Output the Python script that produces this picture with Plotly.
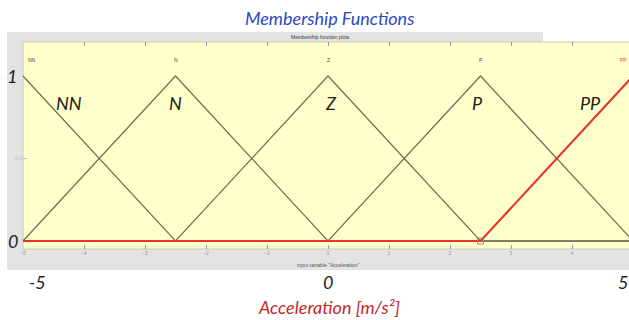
import plotly.graph_objects as go

# membership function vertices (input variable "Acceleration", range -5..5)
MF_NAMES = ["NN", "N", "Z", "P", "PP"]
NN_X = [-5, -2.5, 5]
NN_Y = [1, 0, 0]
N_X = [-5, -2.5, 0, 5]
N_Y = [0, 1, 0, 0]
Z_X = [-5, -2.5, 0, 2.5, 5]
Z_Y = [0, 0, 1, 0, 0]
P_X = [-5, 0, 2.5, 5]
P_Y = [0, 0, 1, 0]
PP_X = [-5, 2.5, 5]
PP_Y = [0, 0, 1]
PEAKS = [-5, -2.5, 0, 2.5, 5]
X_TICKS = [-5, -4, -3, -2, -1, 0, 1, 2, 3, 4, 5]
BIG_X_LABELS = ["-5", "0", "5"]

W, H = 629, 320
L, R, T, B = 23, 0, 42, 71
PW, PH = W - L - R, H - T - B

LINE_COLOR = "#6e6e52"
RED = "#e8342c"
YELLOW = "#ffffcc"
GRAY = "#e3e3e3"
BIG_FONT = "Lato, 'Open Sans', sans-serif"


# pixel -> paper (paper spans the plot area only)
def px(x):
    return (x - L) / PW


def py(y):
    return (H - B - y) / PH


fig = go.Figure()

for xs, ys in [(NN_X, NN_Y), (N_X, N_Y), (Z_X, Z_Y), (P_X, P_Y)]:
    fig.add_trace(go.Scatter(
        x=xs, y=ys, mode="lines",
        line=dict(color=LINE_COLOR, width=1.2),
        hoverinfo="skip",
    ))

fig.add_trace(go.Scatter(
    x=PP_X, y=PP_Y, mode="lines",
    line=dict(color=RED, width=2.2),
    hoverinfo="skip",
))
fig.add_trace(go.Scatter(
    x=PP_X[1:2], y=PP_Y[1:2], mode="markers",
    marker=dict(symbol="square-open", size=6, color="#9a8a6a", line=dict(width=1)),
    hoverinfo="skip",
))

# frame: gray panel, title strip, yellow axes area
shapes = [
    dict(type="rect", xref="paper", yref="paper", x0=px(7), x1=px(629), y0=py(270), y1=py(42),
         fillcolor=GRAY, line_width=0, layer="below"),
    dict(type="rect", xref="paper", yref="paper", x0=px(7), x1=px(543), y0=py(42), y1=py(32),
         fillcolor=GRAY, line_width=0, layer="below"),
    dict(type="rect", xref="paper", yref="paper", x0=px(L), x1=px(630), y0=py(249), y1=py(T),
         fillcolor=YELLOW, line=dict(color="#c8c8b0", width=1), layer="below"),
]

annotations = [
    dict(text="Membership function plots", x=px(320), y=py(37), xref="paper", yref="paper",
         showarrow=False, font=dict(size=5, color="#333", family="Arial"), xanchor="center", yanchor="middle"),
    dict(text="input variable \"Acceleration\"", x=0, y=py(265), xref="x", yref="paper",
         showarrow=False, font=dict(size=5, color="#555", family="Arial"), xanchor="center", yanchor="middle"),
    dict(text="<i>Membership Functions</i>", x=px(329), y=py(18), xref="paper", yref="paper",
         showarrow=False, font=dict(size=18, color="#2a48c8", family=BIG_FONT), xanchor="center", yanchor="middle"),
    dict(text="<i>Acceleration [m/s²]</i>", x=px(329), y=py(307), xref="paper", yref="paper",
         showarrow=False, font=dict(size=18, color="#c3262b", family=BIG_FONT), xanchor="center", yanchor="middle"),
    dict(text="<i>1</i>", x=px(12), y=1, xref="paper", yref="y", showarrow=False,
         font=dict(size=18, color="#222", family=BIG_FONT), xanchor="center", yanchor="middle"),
    dict(text="<i>0</i>", x=px(13), y=0, xref="paper", yref="y", showarrow=False,
         font=dict(size=18, color="#222", family=BIG_FONT), xanchor="center", yanchor="middle"),
]

# big x labels under the panel (the "5" sits at the right edge)
for lab, xpix in zip(BIG_X_LABELS, [37, 328, 623]):
    annotations.append(dict(text=f"<i>{lab}</i>", x=px(xpix), y=py(282), xref="paper", yref="paper",
                            showarrow=False, font=dict(size=18, color="#222", family=BIG_FONT),
                            xanchor="center", yanchor="middle"))

x_end = -5 + PW / 61.0

# small MATLAB labels above each peak, and large italic overlay labels
small_shift = [9, 0, 0, 0, 0]
big_pos = [-4.25, -2.5, 0.05, 2.45, 4.3]
for name, pk, sh, bx in zip(MF_NAMES, PEAKS, small_shift, big_pos):
    annotations.append(dict(text=name, x=min(pk, x_end), y=py(60), xref="x", yref="paper", xshift=sh,
                            showarrow=False, font=dict(size=5, color=RED if name == "PP" else "#444",
                                                      family="Arial"),
                            xanchor="right" if pk > x_end else "center", yanchor="middle"))
    annotations.append(dict(text=f"<i>{name}</i>", x=bx, y=py(103), xref="x", yref="paper",
                            showarrow=False, font=dict(size=18, color="#222", family=BIG_FONT),
                            xanchor="center", yanchor="middle"))

fig.update_layout(
    width=W, height=H, autosize=False,
    margin=dict(l=L, r=R, t=T, b=B, pad=0),
    paper_bgcolor="white",
    plot_bgcolor="rgba(0,0,0,0)",
    showlegend=False,
    shapes=shapes,
    annotations=annotations,
    xaxis=dict(range=[-5, x_end], tickvals=X_TICKS, ticks="inside", ticklen=4, tickcolor="#999",
               mirror="ticks", showline=False, showgrid=False, zeroline=False,
               tickfont=dict(size=5, color="#999", family="Arial")),
    yaxis=dict(range=[(241 - 249) / 165, (241 - 42) / 165], tickvals=[0.5], ticktext=["0.5"],
               ticks="inside", ticklen=4, tickcolor="#bbb", showgrid=False, zeroline=False,
               showline=False, tickfont=dict(size=5, color="#bbb", family="Arial")),
)

# page body has a default 8px margin; drop it so the figure sits at the window corner
fig.write_html("out.html", config={"displayModeBar": False},
               post_script="document.body.style.margin='0';")
